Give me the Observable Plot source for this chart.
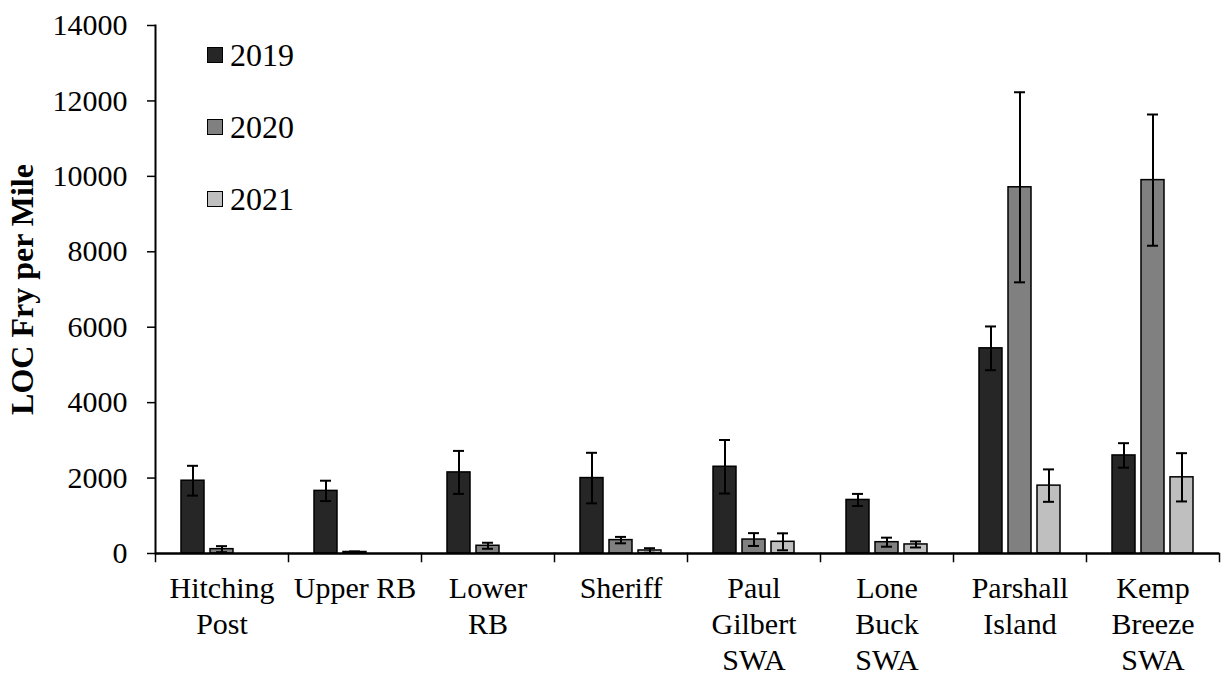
<!DOCTYPE html>
<html><head><meta charset="utf-8">
<script src="https://cdn.jsdelivr.net/npm/d3@7"></script>
<script src="https://cdn.jsdelivr.net/npm/@observablehq/plot@0.6"></script>
<style>
body{margin:0;background:#fff;}
#wrap{position:relative;width:1225px;height:677px;overflow:hidden;}
.leg{position:absolute;left:207px;height:34px;display:flex;align-items:center;font-family:"Liberation Serif","Times New Roman",serif;font-size:32px;color:#000;line-height:34px;}
.sw{width:14px;height:14px;border:1px solid #000;margin-right:7px;}
</style></head><body><div id="wrap"></div>
<script>
const sites = ["Hitching Post","Upper RB","Lower RB","Sheriff","Paul Gilbert SWA","Lone Buck SWA","Parshall Island","Kemp Breeze SWA"];
const siteLabels = ["Hitching\nPost","Upper RB","Lower\nRB","Sheriff","Paul\nGilbert\nSWA","Lone\nBuck\nSWA","Parshall\nIsland","Kemp\nBreeze\nSWA"];
const years = ["2019","2020","2021"];
const mean2019 = [1930,1660,2150,2000,2300,1420,5440,2600];
const err2019  = [395,270,570,670,710,160,580,325];
const mean2020 = [115,40,205,355,370,300,9710,9900];
const err2020  = [80,15,80,85,170,120,2520,1740];
const mean2021 = [0,0,0,80,310,240,1800,2020];
const err2021  = [0,0,0,60,225,80,430,640];
const yTicks = [0,2000,4000,6000,8000,10000,12000,14000];
const colors = ["#262626","#808080","#bfbfbf"];
const yLabel = "LOC Fry per Mile";

const means = [mean2019, mean2020, mean2021];
const errs = [err2019, err2020, err2021];
const rows = [];
sites.forEach((s, i) => years.forEach((y, j) => rows.push({site: s, year: y, mean: means[j][i], err: errs[j][i]})));
const bars = rows.filter(d => d.mean > 0);
const ebars = rows.filter(d => d.err > 0);
const innerH = 677 - 25 - 124;

const chart = Plot.plot({
  width: 1225, height: 677,
  marginLeft: 155, marginRight: 6, marginTop: 25, marginBottom: 124,
  style: {fontFamily: '"Liberation Serif","Times New Roman",serif', fontSize: "30px", color: "#000", background: "#fff"},
  fx: {domain: sites, padding: 0, label: null},
  x: {domain: years, paddingInner: 0.19, paddingOuter: 0.85, axis: null},
  y: {domain: [0, 14000], label: null},
  color: {domain: years, range: colors},
  marks: [
    Plot.frame({anchor: "left", insetTop: innerH, insetBottom: -8, stroke: "#000", strokeWidth: 1.5}),
    Plot.frame({anchor: "right", fx: () => sites[sites.length - 1], insetTop: innerH, insetBottom: -8, stroke: "#000", strokeWidth: 1.5}),
    Plot.frame({anchor: "left", fx: () => sites[0], stroke: "#000", strokeWidth: 2}),
    Plot.barY(bars, {fx: "site", x: "year", y: "mean", fill: "year", stroke: "#000", strokeWidth: 1.5}),
    Plot.ruleX(ebars, {fx: "site", x: "year", y1: d => d.mean - d.err, y2: d => d.mean + d.err, stroke: "#000", strokeWidth: 2}),
    Plot.tickY(ebars, {fx: "site", x: "year", y: d => d.mean + d.err, insetLeft: 6, insetRight: 6, stroke: "#000", strokeWidth: 2}),
    Plot.tickY(ebars, {fx: "site", x: "year", y: d => Math.max(0, d.mean - d.err), insetLeft: 6, insetRight: 6, stroke: "#000", strokeWidth: 2}),
    Plot.ruleY([0], {stroke: "#000", strokeWidth: 2.5}),
    Plot.axisY({ticks: yTicks, tickFormat: d => String(d), tickSize: 8, tickPadding: 20, fontSize: 30, label: null, strokeWidth: 1.5}),
    Plot.axisY({ticks: [], label: yLabel, labelArrow: "none", labelAnchor: "center", labelOffset: 145, fontSize: 32, fontWeight: "bold"}),
    Plot.axisFx({anchor: "bottom", tickSize: 0, tickPadding: 19, tickFormat: d => siteLabels[sites.indexOf(d)], lineHeight: 1.2, fontSize: 30, label: null})
  ]
});
const wrap = document.getElementById("wrap");
wrap.appendChild(chart);
const legTops = [38, 110, 182];
years.forEach((y, j) => {
  const div = document.createElement("div");
  div.className = "leg";
  div.style.top = legTops[j] + "px";
  div.innerHTML = `<span class="sw" style="background:${colors[j]}"></span><span>${y}</span>`;
  wrap.appendChild(div);
});
</script>
</body></html>
